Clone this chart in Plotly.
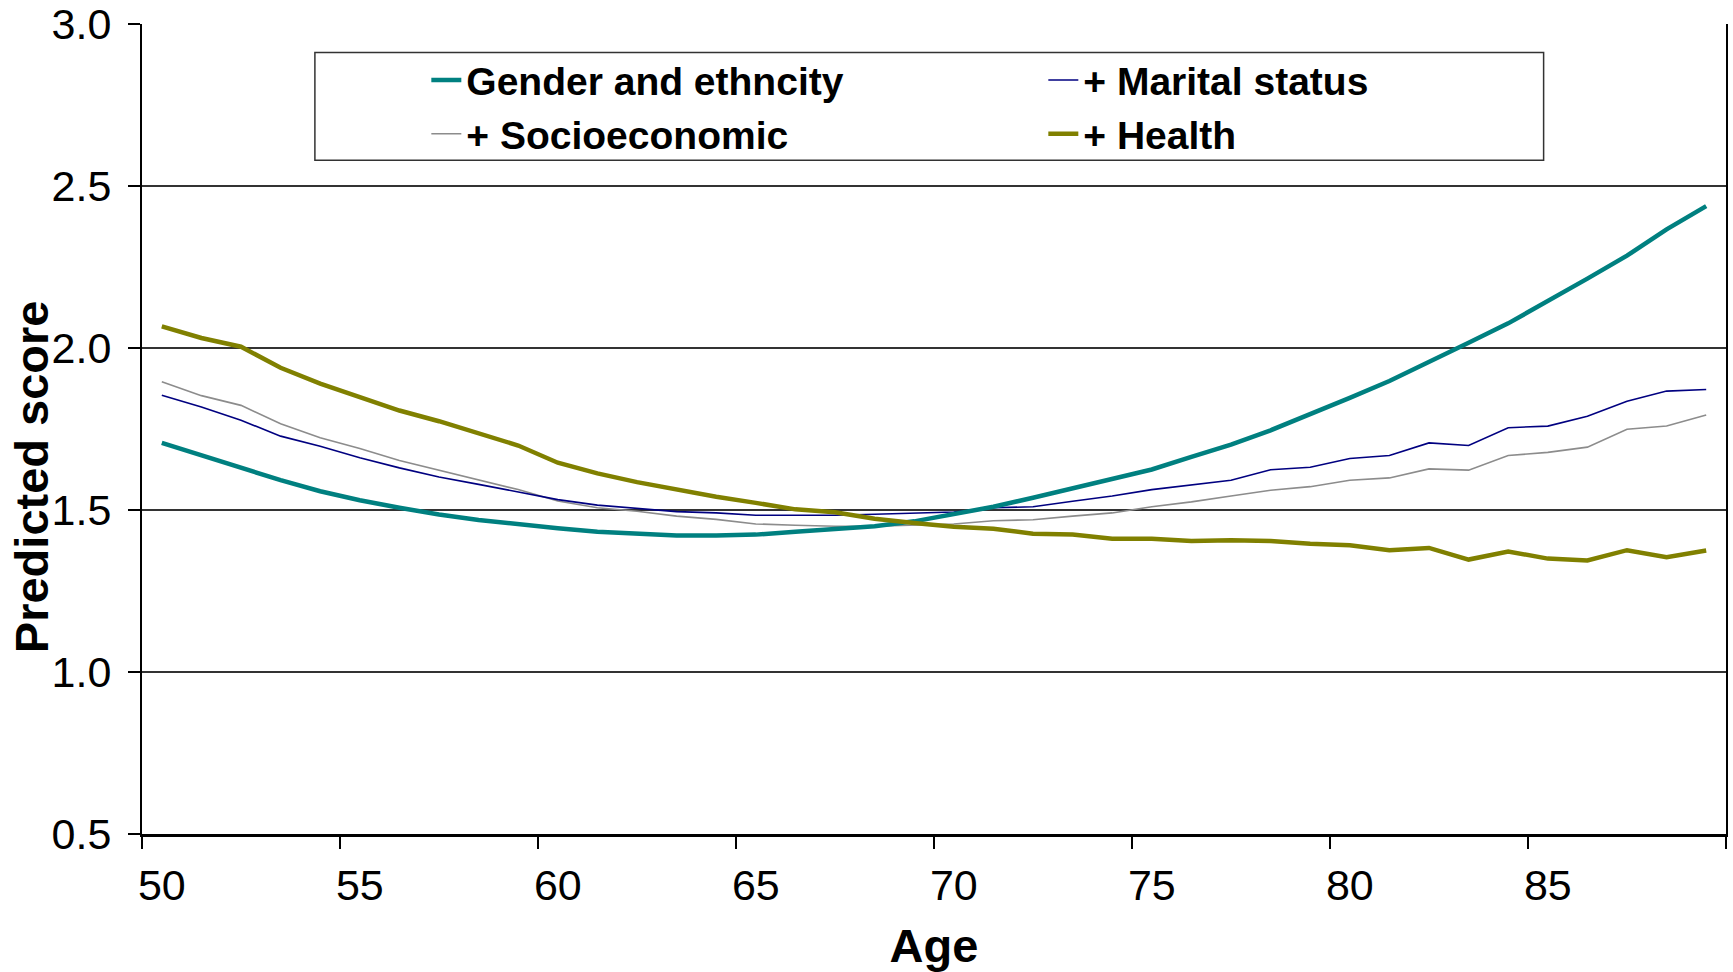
import plotly.graph_objects as go

ages = list(range(50, 90))

gender_ethnicity = [1.707, 1.668, 1.632, 1.592, 1.558, 1.530, 1.507, 1.486, 1.469, 1.455,
                    1.444, 1.433, 1.426, 1.421, 1.421, 1.424, 1.433, 1.440, 1.450, 1.465,
                    1.486, 1.510, 1.538, 1.568, 1.596, 1.625, 1.664, 1.702, 1.746, 1.795,
                    1.846, 1.898, 1.956, 2.016, 2.076, 2.144, 2.214, 2.285, 2.366, 2.438]

marital_status = [1.854, 1.818, 1.777, 1.728, 1.697, 1.661, 1.630, 1.602, 1.579, 1.556,
                  1.532, 1.515, 1.505, 1.495, 1.491, 1.484, 1.484, 1.484, 1.487, 1.491,
                  1.494, 1.507, 1.510, 1.527, 1.543, 1.563, 1.577, 1.592, 1.624, 1.632,
                  1.659, 1.668, 1.707, 1.699, 1.754, 1.759, 1.789, 1.836, 1.867, 1.872]

socioeconomic = [1.896, 1.853, 1.823, 1.766, 1.723, 1.690, 1.653, 1.623, 1.592, 1.563,
                 1.528, 1.507, 1.496, 1.481, 1.471, 1.457, 1.453, 1.450, 1.450, 1.453,
                 1.457, 1.467, 1.470, 1.481, 1.491, 1.510, 1.525, 1.543, 1.561, 1.572,
                 1.592, 1.599, 1.627, 1.623, 1.668, 1.678, 1.694, 1.749, 1.759, 1.793]

health = [2.067, 2.031, 2.004, 1.939, 1.890, 1.848, 1.807, 1.774, 1.736, 1.699,
          1.646, 1.613, 1.586, 1.563, 1.541, 1.522, 1.502, 1.493, 1.473, 1.460,
          1.448, 1.442, 1.427, 1.424, 1.411, 1.411, 1.404, 1.407, 1.404, 1.396,
          1.391, 1.376, 1.383, 1.347, 1.372, 1.350, 1.344, 1.376, 1.354, 1.375]

x_tick_labels = [50, 55, 60, 65, 70, 75, 80, 85]
x_boundaries = [49.5, 54.5, 59.5, 64.5, 69.5, 74.5, 79.5, 84.5, 89.5]
y_ticks = [0.5, 1.0, 1.5, 2.0, 2.5, 3.0]

FONT = "Liberation Sans, Arial, sans-serif"

fig = go.Figure()
# drawing order: thin lines underneath, thick lines on top
fig.add_trace(go.Scatter(x=ages, y=socioeconomic, mode="lines", name="+ Socioeconomic",
                         line=dict(color="#8c8c8c", width=1.6), legendrank=3))
fig.add_trace(go.Scatter(x=ages, y=marital_status, mode="lines", name="+ Marital status",
                         line=dict(color="#000080", width=1.6), legendrank=2))
fig.add_trace(go.Scatter(x=ages, y=gender_ethnicity, mode="lines", name="Gender and ethncity",
                         line=dict(color="#008080", width=4.5), legendrank=1))
fig.add_trace(go.Scatter(x=ages, y=health, mode="lines", name="+ Health",
                         line=dict(color="#808000", width=4.5), legendrank=4))

W, H = 1733, 972
L, R, T, B = 141.5, 1726.5, 24.3, 834.5
pw, ph = R - L, B - T


def px_x(x):
    return (x - L) / pw


def px_y(y):
    return (B - y) / ph


fig.update_layout(
    width=W, height=H,
    margin=dict(l=L, r=W - R, t=T, b=H - B, pad=0, autoexpand=False),
    paper_bgcolor="white", plot_bgcolor="white",
    font=dict(family=FONT, color="black"),
    showlegend=True,
    legend=dict(
        orientation="h",
        x=px_x(426), xanchor="left",
        y=px_y(48.5), yanchor="top",
        entrywidth=572, entrywidthmode="pixels",
        font=dict(family=FONT, size=39, color="black", weight="bold"),
        bgcolor="rgba(0,0,0,0)", borderwidth=0,
        traceorder="normal",
        itemclick=False, itemdoubleclick=False,
    ),
    xaxis=dict(
        range=[49.5, 89.5], automargin=False,
        tickmode="array", tickvals=x_tick_labels, ticktext=[str(v) for v in x_tick_labels],
        ticks="", showgrid=False, zeroline=False,
        showline=True, linecolor="black", linewidth=3,
        tickfont=dict(family=FONT, size=43, color="black"),
        ticklabelstandoff=11,
        minor=dict(tickmode="array", tickvals=x_boundaries, ticks="outside",
                   ticklen=12, tickwidth=2, tickcolor="black", showgrid=False),
        title=dict(text="<b>Age</b>", font=dict(family=FONT, size=47, color="black"),
                   standoff=22),
    ),
    yaxis=dict(
        range=[0.5, 3.0], automargin=False,
        tickmode="array", tickvals=y_ticks, tickformat=".1f",
        ticks="outside", ticklen=12, tickwidth=2, tickcolor="black",
        showgrid=True, gridcolor="#333333", gridwidth=1.5,
        zeroline=False,
        showline=True, linecolor="black", linewidth=2, mirror=True,
        tickfont=dict(family=FONT, size=43, color="black"),
        ticklabelstandoff=8,
    ),
    shapes=[dict(type="rect", xref="paper", yref="paper",
                 x0=px_x(314.5), x1=px_x(1544), y0=px_y(160.7), y1=px_y(52.7),
                 line=dict(color="#333333", width=1.5), fillcolor="rgba(0,0,0,0)",
                 layer="above")],
    annotations=[dict(text="<b>Predicted score</b>", xref="paper", yref="paper",
                      x=px_x(31), y=px_y(477), xanchor="center", yanchor="middle",
                      textangle=-90, showarrow=False,
                      font=dict(family=FONT, size=47, color="black"))],
)

fig.write_html("out.html")
